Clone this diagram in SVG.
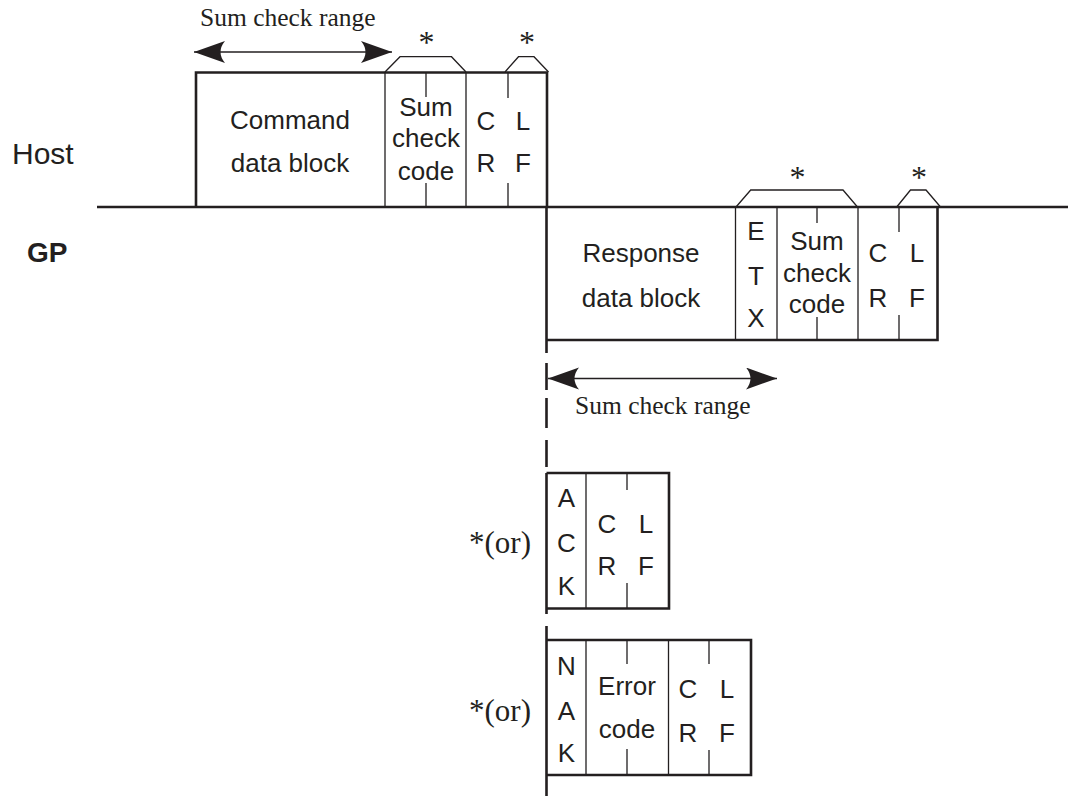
<svg xmlns="http://www.w3.org/2000/svg" width="1068" height="796" viewBox="0 0 1068 796">
<style>
.sans{font-family:"Liberation Sans",Arial,sans-serif;font-size:26px;fill:#231f20;text-anchor:middle}
.serif{font-family:"Liberation Serif","Times New Roman",serif;font-size:25.5px;fill:#231f20}
.or{font-family:"Liberation Serif","Times New Roman",serif;font-size:31px;fill:#231f20;text-anchor:end}
.ast{font-family:"Liberation Serif","Times New Roman",serif;font-size:32px;fill:#231f20;text-anchor:middle}
.thick{fill:none;stroke:#231f20;stroke-width:2.6}
.thin{fill:none;stroke:#231f20;stroke-width:1.3}
</style>
<defs>
<marker id="ah" markerUnits="userSpaceOnUse" markerWidth="34" markerHeight="24" refX="31" refY="11" orient="auto-start-reverse">
<path d="M31,11 L0,0 Q9,11 0,22 Z" fill="#231f20"/>
</marker>
</defs>
<rect width="1068" height="796" fill="#ffffff"/>

<g id="labels">
<text class="sans" x="12" y="164" style="font-size:30px;text-anchor:start">Host</text>
<text class="sans" x="27" y="262" style="font-size:28px;font-weight:bold;text-anchor:start">GP</text>
</g>

<g id="command-frame">
<path class="thick" d="M196,207 V72.5 H547 V207"/>
<path class="thin" d="M385,72.5 V207 M466,72.5 V207 M426,72.5 V97 M426,183 V207 M508,72.5 V98 M508,183 V207"/>
<path class="thin" d="M385,72 L400,56.7 H451.5 L466,72 M505,72 L518.5,56.7 H534 L548.5,72"/>
<text class="ast" x="426.5" y="53">*</text>
<text class="ast" x="527" y="53">*</text>
<text class="sans" x="290" y="129">Command</text>
<text class="sans" x="290" y="172">data block</text>
<text class="sans" x="426" y="116">Sum</text>
<text class="sans" x="426" y="147">check</text>
<text class="sans" x="426" y="180">code</text>
<text class="sans" x="486" y="130">C</text>
<text class="sans" x="486" y="172">R</text>
<text class="sans" x="523" y="130">L</text>
<text class="sans" x="523" y="172">F</text>
</g>

<g id="response-frame">
<path class="thick" d="M546.5,340 H937.5 V207"/>
<path class="thin" d="M735.5,207 V340 M777,207 V340 M858,207 V340 M817,207 V223 M817,317 V340 M899,207 V232 M899,315 V340"/>
<path class="thin" d="M736,207 L750.7,190 H843 L857.5,207 M896.7,207 L910.5,190 H926 L940.5,207"/>
<text class="ast" x="797.5" y="188">*</text>
<text class="ast" x="919" y="188">*</text>
<text class="sans" x="641" y="262">Response</text>
<text class="sans" x="641" y="307">data block</text>
<text class="sans" x="756" y="240">E</text>
<text class="sans" x="756" y="285">T</text>
<text class="sans" x="756" y="327">X</text>
<text class="sans" x="817" y="250">Sum</text>
<text class="sans" x="817" y="282">check</text>
<text class="sans" x="817" y="313">code</text>
<text class="sans" x="878" y="262">C</text>
<text class="sans" x="878" y="307">R</text>
<text class="sans" x="917" y="262">L</text>
<text class="sans" x="917" y="307">F</text>
</g>

<g id="ack-frame">
<path class="thick" d="M546.5,473 H669 V608.5 H546.5"/>
<path class="thin" d="M586,473 V608.5 M627,473 V490 M627,583 V608.5"/>
<text class="or" x="531" y="553">*(or)</text>
<text class="sans" x="566.5" y="507">A</text>
<text class="sans" x="566.5" y="552">C</text>
<text class="sans" x="566.5" y="595">K</text>
<text class="sans" x="607" y="533">C</text>
<text class="sans" x="607" y="575">R</text>
<text class="sans" x="646" y="533">L</text>
<text class="sans" x="646" y="575">F</text>
</g>

<g id="nak-frame">
<path class="thick" d="M546.5,640 H751 V775 H546.5"/>
<path class="thin" d="M586,640 V775 M668.5,640 V775 M627,640 V664 M627,749 V775 M709,640 V664 M709,750 V775"/>
<text class="or" x="531" y="721">*(or)</text>
<text class="sans" x="566.5" y="675">N</text>
<text class="sans" x="566.5" y="720">A</text>
<text class="sans" x="566.5" y="762">K</text>
<text class="sans" x="627" y="695">Error</text>
<text class="sans" x="627" y="738">code</text>
<text class="sans" x="688" y="698">C</text>
<text class="sans" x="688" y="742">R</text>
<text class="sans" x="727" y="698">L</text>
<text class="sans" x="727" y="742">F</text>
</g>

<g id="connectors">
<line class="thick" x1="97" y1="207" x2="1068" y2="207"/>
<path class="thick" d="M546.5,207 V353 M546.5,363 V390 M546.5,398 V428 M546.5,440 V467 M546.5,473 V614 M546.5,626 V796"/>
<line class="thin" x1="194" y1="52" x2="392" y2="52" marker-start="url(#ah)" marker-end="url(#ah)"/>
<line class="thin" x1="548" y1="378.5" x2="777" y2="378.5" marker-start="url(#ah)" marker-end="url(#ah)"/>
<text class="serif" x="200" y="26">Sum check range</text>
<text class="serif" x="575" y="414">Sum check range</text>
</g>
</svg>
